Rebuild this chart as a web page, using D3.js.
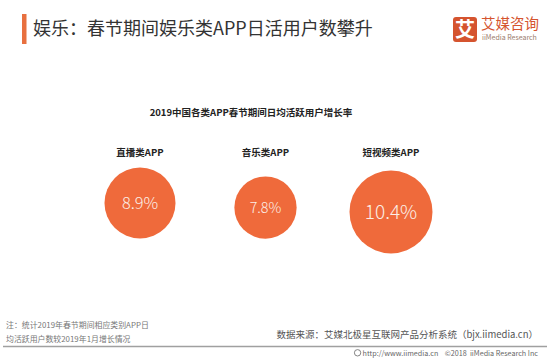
<!DOCTYPE html>
<html>
<head>
<meta charset="utf-8">
<script src="https://cdn.jsdelivr.net/npm/d3@7"></script>
<style>
html,body{margin:0;padding:0;background:#fff;}
svg{display:block;}
text{font-family:"Noto Sans CJK SC","Noto Sans",sans-serif;}
</style>
</head>
<body>
<svg id="chart" width="550" height="358"></svg>
<script>
const categories = ["直播类APP", "音乐类APP", "短视频类APP"];
const growthValues = [8.9, 7.8, 10.4];
const valueLabels = ["8.9%", "7.8%", "10.4%"];

const pageTitle = "娱乐：春节期间娱乐类APP日活用户数攀升";
const chartTitle = "2019中国各类APP春节期间日均活跃用户增长率";
const noteLines = ["注：统计2019年春节期间相应类别APP日", "均活跃用户数较2019年1月增长情况"];
const sourceText = "数据来源：艾媒北极星互联网产品分析系统（bjx.iimedia.cn）";
const footerText = "http://www.iimedia.cn    ©2018  iiMedia Research Inc";

const svg = d3.select("#chart");
const orange = "#ef6a3b";

// header bar + title
svg.append("rect").attr("x", 22).attr("y", 14).attr("width", 4.5).attr("height", 30).attr("fill", "#e8703f");
svg.append("text").attr("x", 33).attr("y", 34.5).attr("font-size", 18).attr("fill", "#333")
  .text(pageTitle);

// logo
const logo = svg.append("g");
logo.append("rect").attr("x", 453).attr("y", 17).attr("width", 24).attr("height", 25).attr("rx", 3).attr("fill", "#d5542f");
logo.append("text").attr("x", 465).attr("y", 36.5).attr("text-anchor", "middle").attr("font-size", 20)
  .attr("font-weight", "bold").attr("fill", "#fff").text("艾");
logo.append("text").attr("x", 481).attr("y", 28.5).attr("font-size", 14.5).attr("fill", "#d5542f").text("艾媒咨询");
logo.append("text").attr("x", 482).attr("y", 39.5).attr("font-size", 7).attr("fill", "#9a7b6c")
  .attr("font-family", "Liberation Sans, sans-serif").text("iiMedia Research");

// chart title
svg.append("text").attr("x", 251).attr("y", 116).attr("text-anchor", "middle").attr("font-size", 9.5)
  .attr("font-weight", "bold").attr("fill", "#222").text(chartTitle);

// scales
const x = d3.scalePoint().domain(categories).range([140, 391]);
const y = d3.scalePoint().domain(categories).range([203, 212]);
const r = d3.scaleLinear().domain([0, d3.max(growthValues)]).range([0, 41.5]);

const data = categories.map((c, i) => ({ c, v: growthValues[i], label: valueLabels[i] }));

// category labels
svg.selectAll("text.cat").data(data).enter().append("text").attr("class", "cat")
  .attr("x", d => x(d.c)).attr("y", 155.5).attr("text-anchor", "middle")
  .attr("font-size", 9.5).attr("font-weight", "bold").attr("fill", "#222").text(d => d.c);

// bubbles
svg.selectAll("circle.bub").data(data).enter().append("circle").attr("class", "bub")
  .attr("cx", d => x(d.c)).attr("cy", d => y(d.c)).attr("r", d => r(d.v)).attr("fill", orange);

svg.selectAll("text.val").data(data).enter().append("text").attr("class", "val")
  .attr("x", d => x(d.c)).attr("y", d => y(d.c))
  .attr("dy", "0.36em").attr("text-anchor", "middle")
  .attr("font-size", d => r(d.v) * 0.46).attr("font-weight", 300)
  .attr("font-family", "Lato, 'Open Sans', sans-serif")
  .attr("fill", "#fbeee6").text(d => d.label);

// notes
svg.selectAll("text.note").data(noteLines).enter().append("text").attr("class", "note")
  .attr("x", 6).attr("y", (d, i) => 328 + i * 14).attr("font-size", 7.9).attr("fill", "#777").text(d => d);

svg.append("text").attr("x", 538).attr("y", 337.5).attr("text-anchor", "end").attr("font-size", 9.5)
  .attr("fill", "#555").text(sourceText);

// separator
svg.append("line").attr("x1", 3).attr("x2", 547).attr("y1", 346.5).attr("y2", 346.5)
  .attr("stroke", "#a0a0a0").attr("stroke-width", 1.5);

// footer
const ft = svg.append("text").attr("x", 538).attr("y", 355.5).attr("text-anchor", "end").attr("font-size", 7.2)
  .attr("fill", "#666").attr("font-family", "'Liberation Sans', sans-serif")
  .style("white-space", "pre").text(footerText);
const fb = ft.node().getBBox();
svg.append("circle").attr("cx", fb.x - 5).attr("cy", 352.8).attr("r", 3.2).attr("fill", "none").attr("stroke", "#777").attr("stroke-width", 0.9);
</script>
</body>
</html>
